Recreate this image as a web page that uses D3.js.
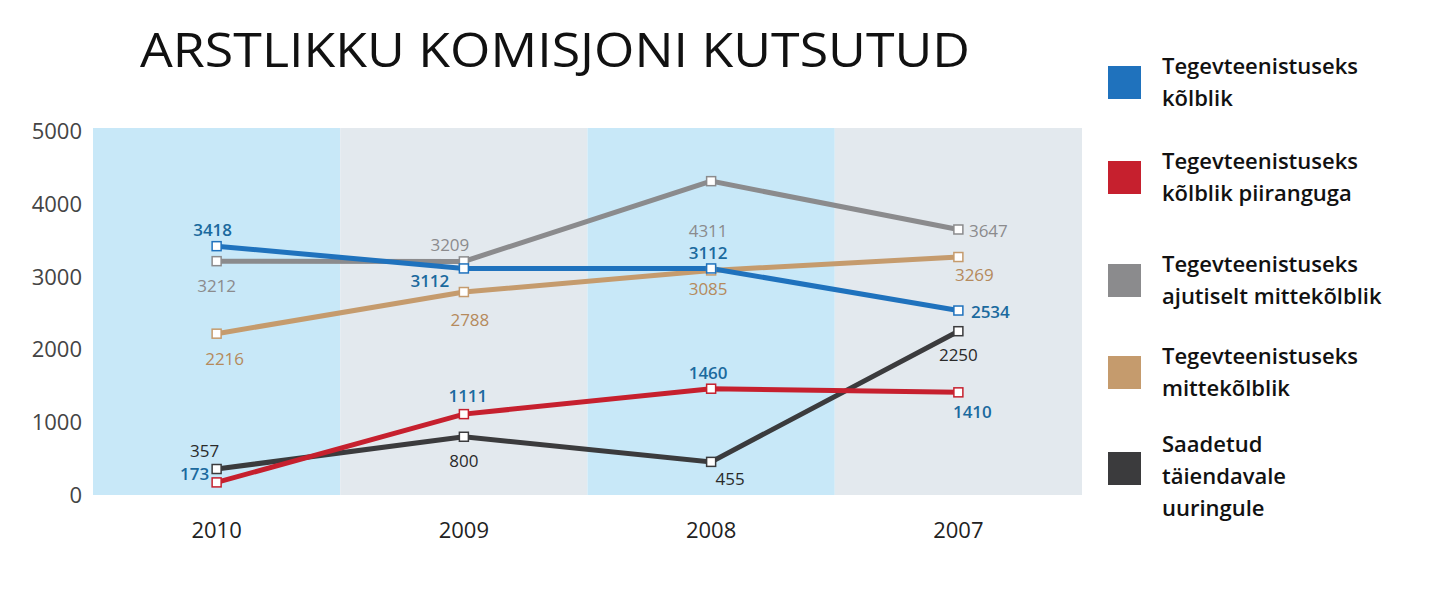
<!DOCTYPE html>
<html><head><meta charset="utf-8">
<script src="https://cdn.jsdelivr.net/npm/d3@7"></script>
<style>body{margin:0;background:#fff}text{font-family:"Open Sans",sans-serif}</style>
</head><body><svg id="c" width="1442" height="616"></svg>
<script>
const years = ["2010", "2009", "2008", "2007"]
const yTicks = [0, 1000, 2000, 3000, 4000, 5000]
const names = [
  ["Tegevteenistuseks", "kõlblik"],
  ["Tegevteenistuseks", "kõlblik piiranguga"],
  ["Tegevteenistuseks", "ajutiselt mittekõlblik"],
  ["Tegevteenistuseks", "mittekõlblik"],
  ["Saadetud", "täiendavale", "uuringule"]
]
const fit = [3418, 3112, 3112, 2534]
const limited = [173, 1111, 1460, 1410]
const temporary = [3212, 3209, 4311, 3647]
const unfit = [2216, 2788, 3085, 3269]
const further = [357, 800, 455, 2250]
const colors = ["#1f72bd", "#c6202e", "#8b8b8d", "#c59b6d", "#3b3b3d"]
const labelColors = ["#1b6a9e", "#1b6a9e", "#8b8b8d", "#b58a5c", "#2a2a2a"]
// label offsets [dx, dy] relative to point
const offsets = [
  [[-4, -16], [-34, 13], [-3, -15], [32, 1]],
  [[-22, -8], [4, -18], [-3, -16], [14, 20]],
  [[0, 25], [-14, -16], [-3, 50], [30, 2]],
  [[8, 25], [6, 28], [-3, 19], [16, 18]],
  [[-12, -18], [0, 24], [19, 17], [0, 24]]
]
const series = [fit, limited, temporary, unfit, further]

const svg = d3.select("#c")
const x = d3.scaleBand().domain(years).range([93, 1082])
const y = d3.scaleLinear().domain([0, 5000]).range([495, 131])

svg.selectAll("rect.band").data(years).join("rect")
  .attr("x", d => x(d)).attr("width", x.bandwidth())
  .attr("y", 128).attr("height", 367)
  .attr("fill", (d, i) => i % 2 ? "#e3e9ee" : "#c8e8f8")

svg.append("text").attr("x", 140).attr("y", 67).attr("font-size", 48).attr("font-weight", 500)
  .attr("textLength", 830).attr("lengthAdjust", "spacingAndGlyphs")
  .attr("fill", "#111").text("ARSTLIKKU KOMISJONI KUTSUTUD")

svg.selectAll("text.yt").data(yTicks).join("text")
  .attr("x", 82).attr("y", d => y(d) + 8).attr("text-anchor", "end")
  .attr("font-size", 22).attr("fill", "#444").text(d => d)
svg.selectAll("text.xt").data(years).join("text")
  .attr("x", d => x(d) + x.bandwidth() / 2).attr("y", 538).attr("text-anchor", "middle")
  .attr("font-size", 22).attr("fill", "#222").text(d => d)

const line = d3.line().x((d, i) => x(years[i]) + x.bandwidth() / 2).y(d => y(d))
const order = [3, 2, 0, 4, 1]
order.forEach(k => {
  svg.append("path").attr("d", line(series[k])).attr("fill", "none")
    .attr("stroke", colors[k]).attr("stroke-width", 5)
})
order.forEach(k => {
  const g = svg.append("g")
  series[k].forEach((v, i) => {
    const cx = x(years[i]) + x.bandwidth() / 2, cy = y(v)
    g.append("rect").attr("x", cx - 4.5).attr("y", cy - 4.5).attr("width", 9).attr("height", 9)
      .attr("fill", "#fff").attr("stroke", colors[k]).attr("stroke-width", 1.5)
    g.append("text").attr("x", cx + offsets[k][i][0]).attr("y", cy + offsets[k][i][1] + 6)
      .attr("text-anchor", "middle").attr("font-size", 17)
      .attr("font-weight", k < 2 ? 600 : 400).attr("fill", labelColors[k]).text(v)
  })
})

const legY = [82, 177, 280, 372, 468]
names.forEach((n, k) => {
  const top = legY[k]
  svg.append("rect").attr("x", 1108).attr("y", top - 16).attr("width", 33).attr("height", 33)
    .attr("fill", colors[k])
  n.forEach((t, j) => {
    svg.append("text").attr("x", 1162).attr("y", top - 8 + j * 32 + (n.length === 3 ? -8 : 0))
      .attr("font-size", 22).attr("font-weight", 600).attr("fill", "#111").text(t)
  })
})
</script></body></html>
